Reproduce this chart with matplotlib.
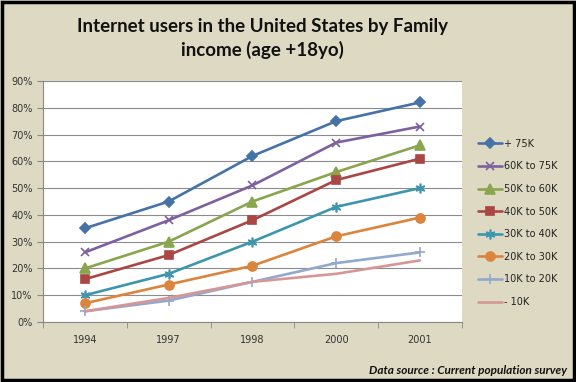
import matplotlib.pyplot as plt
from matplotlib.patches import Rectangle
from matplotlib.ticker import FixedLocator

years = ['1994', '1997', '1998', '2000', '2001']

over_75k = [35, 45, 62, 75, 82]
k60_75 = [26, 38, 51, 67, 73]
k50_60 = [20, 30, 45, 56, 66]
k40_50 = [16, 25, 38, 53, 61]
k30_40 = [10, 18, 30, 43, 50]
k20_30 = [7, 14, 21, 32, 39]
k10_20 = [4, 8, 15, 22, 26]
under_10k = [4, 9, 15, 18, 23]

# (label, values, colour, marker, marker size)
SERIES = [
    ('+ 75K',      over_75k,  '#4572A7', 'D', 5),
    ('60K to 75K', k60_75,    '#7D60A0', 'x', 6),
    ('50K to 60K', k50_60,    '#89A54E', '^', 6.5),
    ('40K to 50K', k40_50,    '#AA4643', 's', 6),
    ('30K to 40K', k30_40,    '#3D96AE', (6, 2, 0), 7),
    ('20K to 30K', k20_30,    '#DB843D', 'o', 6.5),
    ('10K to 20K', k10_20,    '#92A8CD', '+', 7),
    ('- 10K',      under_10k, '#D59696', None, 0),
]

BG = '#DDD9C3'

fig = plt.figure(figsize=(5.76, 3.82), dpi=100, facecolor=BG)
ax = fig.add_axes([0.0747, 0.157, 0.727, 0.631])
ax.set_facecolor('white')

x = range(len(years))
for label, vals, color, marker, ms in SERIES:
    ax.plot(x, [v / 100 for v in vals], color=color, lw=1.9, marker=marker,
            ms=ms, mew=1.2, label=label, solid_capstyle='round')

ax.set_xlim(-0.5, len(years) - 0.5)
ax.set_ylim(0, 0.9)
ax.set_yticks([i / 10 for i in range(10)])
ax.set_yticklabels([f'{i * 10}%' for i in range(10)])
ax.set_xticks(list(x))
ax.set_xticklabels(years)
ax.xaxis.set_minor_locator(FixedLocator([i - 0.5 for i in range(len(years) + 1)]))
ax.tick_params(axis='x', which='major', length=0, pad=9, labelsize=7, labelcolor='#333333')
ax.tick_params(axis='x', which='minor', length=4, color='#888888')
ax.tick_params(axis='y', length=4, color='#888888', labelsize=7, labelcolor='#333333')
ax.grid(axis='y', color='#8C8C8C', lw=0.8)
ax.set_axisbelow(True)
for side in ['top', 'right']:
    ax.spines[side].set_visible(False)
for side in ['left', 'bottom']:
    ax.spines[side].set_color('#888888')

fig.text(0.455, 0.9, 'Internet users in the United States by Family\nincome (age +18yo)',
         ha='center', va='center', fontsize=13.5, family='Lato', fontweight='bold',
         linespacing=1.4, color='#111111')

fig.legend(loc='upper left', bbox_to_anchor=(0.815, 0.66), frameon=False,
           fontsize=7, handlelength=2.4, labelspacing=1.3, handletextpad=0.3,
           labelcolor='#222222')

fig.text(0.985, 0.03, 'Data source : Current population survey', ha='right', va='center',
         fontsize=8.5, family='Lato', style='italic', fontweight='bold', color='#111111')

fig.patches.append(Rectangle((0.003, 0.005), 0.994, 0.99, transform=fig.transFigure,
                             fill=False, edgecolor='black', lw=2.5))

fig.savefig('out.png', dpi=100, facecolor=BG)
